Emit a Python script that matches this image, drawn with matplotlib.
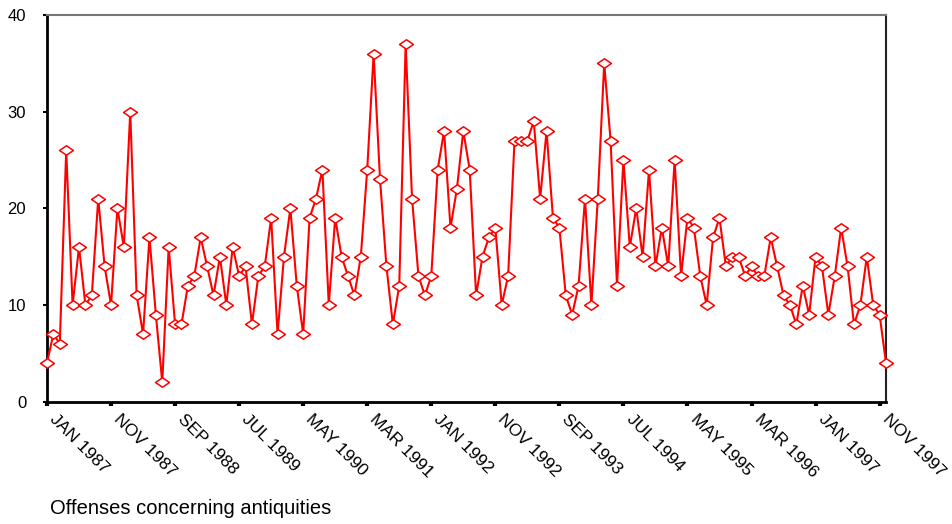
import matplotlib
matplotlib.use("Agg")
import matplotlib.pyplot as plt
from matplotlib.path import Path

plt.rcParams['font.family'] = ['Liberation Sans', 'DejaVu Sans']

# monthly counts, Jan 1987 .. Dec 1997
offenses = [
    4, 7, 6, 26, 10, 16, 10, 11, 21, 14, 10, 20,
    16, 30, 11, 7, 17, 9, 2, 16, 8, 8, 12, 13,
    17, 14, 11, 15, 10, 16, 13, 14, 8, 13, 14, 19,
    7, 15, 20, 12, 7, 19, 21, 24, 10, 19, 15, 13,
    11, 15, 24, 36, 23, 14, 8, 12, 37, 21, 13, 11,
    13, 24, 28, 18, 22, 28, 24, 11, 15, 17, 18, 10,
    13, 27, 27, 27, 29, 21, 28, 19, 18, 11, 9, 12,
    21, 10, 21, 35, 27, 12, 25, 16, 20, 15, 24, 14,
    18, 14, 25, 13, 19, 18, 13, 10, 17, 19, 14, 15,
    15, 13, 14, 13, 13, 17, 14, 11, 10, 8, 12, 9,
    15, 14, 9, 13, 18, 14, 8, 10, 15, 10, 9, 4,
]
tick_pos = list(range(0, 131, 10))
tick_labels = ['JAN 1987', 'NOV 1987', 'SEP 1988', 'JUL 1989', 'MAY 1990',
               'MAR 1991', 'JAN 1992', 'NOV 1992', 'SEP 1993', 'JUL 1994',
               'MAY 1995', 'MAR 1996', 'JAN 1997', 'NOV 1997']
y_ticks = [0, 10, 20, 30, 40]

# flattened diamond marker
diamond = Path([(-1, 0), (0, 0.68), (1, 0), (0, -0.68), (-1, 0)],
               [Path.MOVETO, Path.LINETO, Path.LINETO, Path.LINETO, Path.CLOSEPOLY])

fig = plt.figure(figsize=(9.53, 5.24), dpi=100)
ax = fig.add_axes([0.0493, 0.2334, 0.8804, 0.738])

ax.plot(range(len(offenses)), offenses, color='red', lw=1.5,
        marker=diamond, markersize=10, markerfacecolor='white',
        markeredgecolor='red', markeredgewidth=1.1, clip_on=False, zorder=3)

ax.set_xlim(0, len(offenses) - 1)
ax.set_ylim(0, 40)
ax.set_yticks(y_ticks)
ax.set_xticks(tick_pos)
ax.set_xticklabels(tick_labels, rotation=-45, ha='left', va='bottom',
                   rotation_mode='anchor', fontsize=12.5)
ax.tick_params(axis='y', labelsize=12, length=3, width=1.5, direction='out', pad=12)
ax.tick_params(axis='x', length=3, width=3, direction='out', pad=12)

ax.spines['left'].set_linewidth(2)
ax.spines['bottom'].set_linewidth(2)
ax.spines['top'].set_color('#777777')
ax.spines['top'].set_linewidth(1.5)
ax.spines['right'].set_color('#222222')
ax.spines['right'].set_linewidth(1.5)

fig.text(50 / 953, 1 - 508 / 524, 'Offenses concerning antiquities',
         fontsize=14.5, ha='left', va='center')

fig.savefig('out.png', dpi=100)
